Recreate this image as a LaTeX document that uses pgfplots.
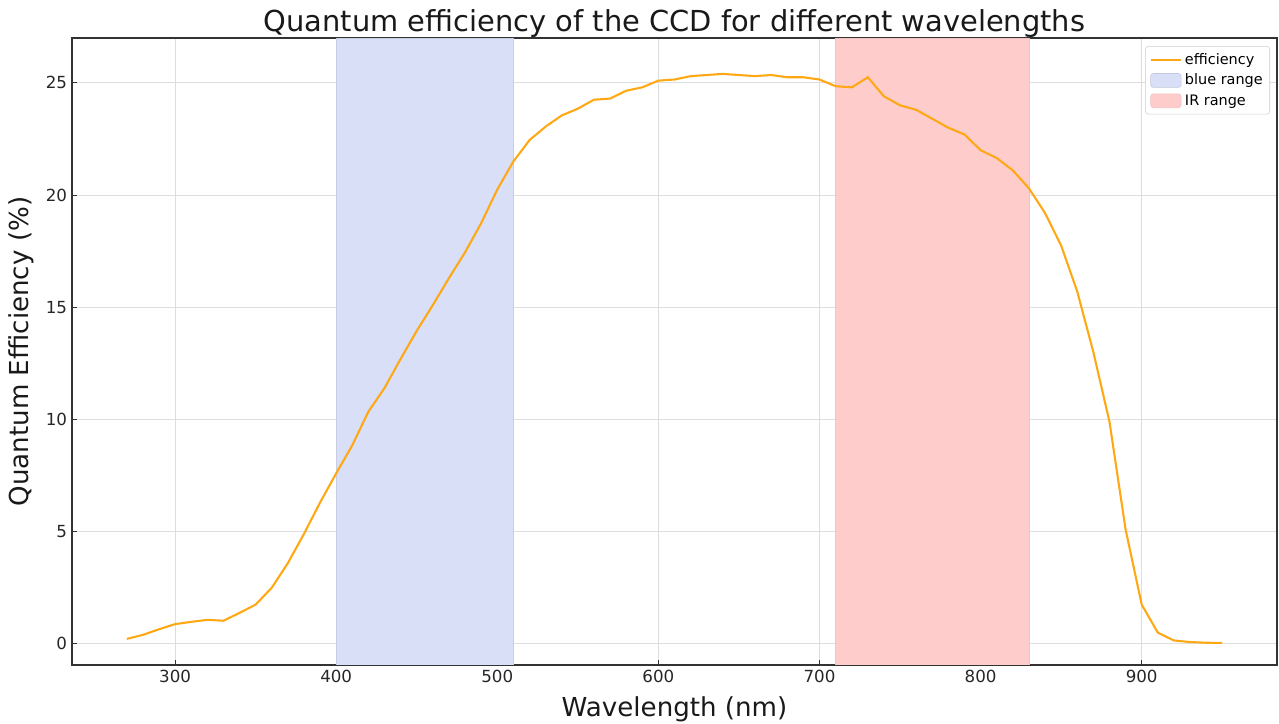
\documentclass[border=0pt]{standalone}
\usepackage{pgfplots}
\pgfplotsset{compat=1.18}
\usepackage{fontspec}
\setmainfont{DejaVu Sans}
\definecolor{effc}{RGB}{255,168,20}
\definecolor{bluespan}{RGB}{216,223,247}
\definecolor{redspan}{RGB}{255,204,204}
\definecolor{gridc}{RGB}{222,222,222}
\definecolor{spinec}{RGB}{51,51,51}
\begin{document}
\begin{tikzpicture}
\begin{axis}[
  name=ax,
  scale only axis,
  width=867.6pt, height=451.4pt,
  xmin=236, xmax=984, ymin=-0.94, ymax=27.0,
  xtick={300,400,...,900},
  ytick={0,5,...,25},
  tick align=inside,
  major tick length=3.5pt,
  xtick pos=bottom, ytick pos=left,
  axis line style={spinec, line width=0.9pt},
  tick style={spinec, line width=0.8pt},
  grid=major,
  major grid style={gridc, line width=0.8pt},
  /pgf/number format/assume math mode=true,
  ticklabel style={font=\fontsize{12}{14}\selectfont, text=black!85},
  title={Quantum efficiency of the CCD for different wavelengths},
  title style={at={(rel axis cs:0.5,1)}, anchor=base, yshift=-1pt, inner sep=0pt,
    font=\fontsize{20.8}{24}\selectfont, text=black!90},
  xlabel={Wavelength (nm)},
  ylabel={Quantum Efficiency (\%)},
  label style={font=\fontsize{18.8}{22}\selectfont, text=black!90},
  xlabel style={at={(rel axis cs:0.5,0)}, anchor=center, yshift=-31.7pt},
  ylabel style={at={(rel axis cs:0,0.5)}, anchor=center, yshift=36.7pt},
  legend style={at={(0.9942,0.987)}, anchor=north east, font=\fontsize{10.4}{12.5}\selectfont,
    draw=black!20, rounded corners=2pt, fill=white, row sep=1.4pt, inner xsep=3pt, inner ysep=3pt},
  legend cell align=left,
  legend image code/.code={\draw[#1] (0cm,0cm) -- (22pt,0cm);},
]
\addlegendimage{effc, line width=1.5pt}
\addlegendentry{efficiency}
\addlegendimage{legend image code/.code={\fill[bluespan,draw=bluespan!90!black] (0pt,-5pt) rectangle (22pt,5pt);}}
\addlegendentry{blue range}
\addlegendimage{legend image code/.code={\fill[redspan,draw=redspan!95!black] (0pt,-5pt) rectangle (22pt,5pt);}}
\addlegendentry{IR range}
\addplot[draw=bluespan!92!black, fill=bluespan, forget plot] coordinates {(400,-0.94) (510,-0.94) (510,27.0) (400,27.0)} -- cycle;
\addplot[draw=redspan!95!black, fill=redspan, forget plot] coordinates {(710,-0.94) (830,-0.94) (830,27.0) (710,27.0)} -- cycle;
\addplot[effc, line width=1.5pt, forget plot] coordinates {
(270,0.22) (280,0.40) (290,0.65) (300,0.88) (310,0.98) (320,1.07) (330,1.03)
(340,1.38) (350,1.75) (360,2.50) (370,3.60) (380,4.90) (390,6.30) (400,7.60)
(410,8.85) (420,10.35) (430,11.40) (440,12.70) (450,13.95) (460,15.10) (470,16.30)
(480,17.45) (490,18.75) (500,20.25) (510,21.50) (520,22.45) (530,23.05) (540,23.55)
(550,23.85) (560,24.25) (570,24.30) (580,24.65) (590,24.80) (600,25.10) (610,25.15)
(620,25.30) (630,25.35) (640,25.40) (650,25.35) (660,25.30) (670,25.35) (680,25.25)
(690,25.25) (700,25.15) (710,24.85) (720,24.80) (730,25.25) (740,24.40) (750,24.00)
(760,23.80) (770,23.40) (780,23.00) (790,22.70) (800,22.00) (810,21.65) (820,21.10)
(830,20.30) (840,19.20) (850,17.75) (860,15.70) (870,13.00) (880,9.90) (890,5.10)
(900,1.75) (910,0.50) (920,0.15) (930,0.08) (940,0.05) (950,0.04)
};
\end{axis}
\pgfresetboundingbox
\path ([shift={(-51.84pt,-42.48pt)}]ax.south west) rectangle ([shift={(1.44pt,27.36pt)}]ax.north east);
\end{tikzpicture}
\end{document}
